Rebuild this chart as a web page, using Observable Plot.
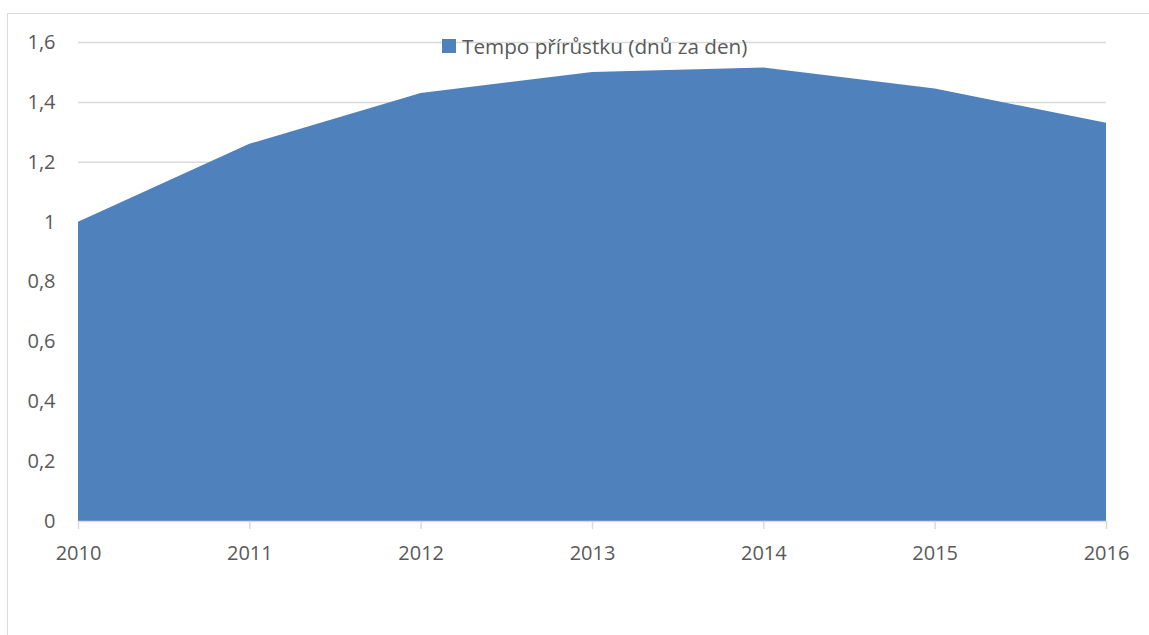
<!DOCTYPE html>
<html>
<head>
<meta charset="utf-8">
<script src="https://cdn.jsdelivr.net/npm/d3@7"></script>
<script src="https://cdn.jsdelivr.net/npm/@observablehq/plot@0.6"></script>
<style>
  html, body { margin: 0; padding: 0; background: #fff; overflow: hidden; }
  #wrap { position: relative; width: 1149px; height: 635px; overflow: hidden; }
  #frame { position: absolute; left: 7px; top: 13px; width: 1200px; height: 700px; border: 1px solid #d9d9d9; box-sizing: border-box; }
  #chart { position: absolute; left: 0; top: 0; }
  #legend { position: absolute; left: 442px; top: 32px; display: flex; align-items: center; font-family: "Open Sans", sans-serif; font-size: 20.7px; color: #595959; white-space: nowrap; }
  #legend .sw { width: 14px; height: 14px; background: #4f81bd; margin-right: 6px; }
</style>
</head>
<body>
<div id="wrap">
  <div id="frame"></div>
  <div id="chart"></div>
  <div id="legend"><span class="sw"></span><span id="legendText"></span></div>
</div>
<script>
const years = [2010, 2011, 2012, 2013, 2014, 2015, 2016];
const values = [1.0, 1.26, 1.43, 1.50, 1.515, 1.445, 1.33];
const seriesName = "Tempo přírůstku (dnů za den)";
const yTicks = [0, 0.2, 0.4, 0.6, 0.8, 1, 1.2, 1.4, 1.6];
const yTickLabels = ["0", "0,2", "0,4", "0,6", "0,8", "1", "1,2", "1,4", "1,6"];

const data = years.map((y, i) => ({year: y, value: values[i]}));
document.getElementById("legendText").textContent = seriesName;

const chart = Plot.plot({
  width: 1149,
  height: 635,
  marginLeft: 78,
  marginRight: 43,
  marginTop: 42,
  marginBottom: 114,
  style: {fontFamily: "'Open Sans', sans-serif", fontSize: "20px", color: "#595959", background: "transparent", overflow: "visible"},
  x: {domain: [2010, 2016], label: null},
  y: {domain: [0, 1.6], label: null},
  marks: [
    Plot.gridY(yTicks.slice(1), {stroke: "#d9d9d9", strokeOpacity: 1, strokeWidth: 1.5}),
    Plot.areaY(data, {x: "year", y: "value", fill: "#4f81bd"}),
    Plot.ruleY([0], {stroke: "#d9d9d9", strokeWidth: 1.5}),
    Plot.axisY({ticks: yTicks, tickSize: 0, tickPadding: 23, label: null, tickFormat: (d) => yTickLabels[yTicks.indexOf(d)], fill: "#595959"}),
    Plot.axisX({ticks: years, tickSize: 8, tickPadding: 16, label: null, stroke: "#d9d9d9", strokeWidth: 1.5, tickFormat: (d) => String(d), fill: "#595959"})
  ]
});
document.getElementById("chart").appendChild(chart);
</script>
</body>
</html>
